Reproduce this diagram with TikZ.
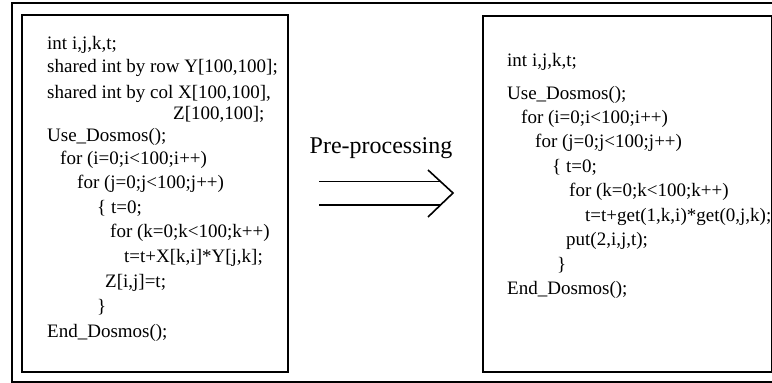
\documentclass[tikz,border=0pt]{standalone}
\usepackage{fontspec}
\setmainfont{Liberation Serif}
\usetikzlibrary{calc}

\begin{document}
\begin{tikzpicture}[x=1pt,y=-1pt,
  every node/.style={font=\fontsize{19}{23}\selectfont},
  codeline/.style={anchor=base west,inner sep=0pt},
  frameline/.style={line width=2pt,line join=miter}]
\useasboundingbox (0,0) rectangle (772,383);
\clip (0,0) rectangle (772,383);
\fill[white] (0,0) rectangle (772,383);
% outer frame and the two boxes
\draw[frameline] (11.5,2.5) rectangle (790,381.5);
\draw[frameline] (22,14.5) rectangle (288,372);
\draw[frameline] (483,16) rectangle (772,372);
% original program
\foreach[count=\n] \x/\y/\txt in {
  47/49/{int i,j,k,t;},
  47/72/{shared int by row Y[100,100];},
  47/98/{shared int by col X[100,100],},
  173/119/{Z[100,100];},
  47/141/{Use\_Dosmos();},
  60/164/{for (i=0;i<100;i++)},
  77/188/{for (j=0;j<100;j++)},
  97/213/{\{ t=0;},
  110/237/{for (k=0;k<100;k++)},
  124/262/{t=t+X[k,i]*Y[j,k];},
  105/287/{Z[i,j]=t;},
  97/312/{\}},
  47/337/{End\_Dosmos();}} {
  \node[codeline] (src\n) at (\x,\y) {\txt};
}
% pre-processed program
\foreach[count=\n] \x/\y/\txt in {
  507/66/{int i,j,k,t;},
  507/99/{Use\_Dosmos();},
  521/123/{for (i=0;i<100;i++)},
  535/147/{for (j=0;j<100;j++)},
  552/172/{\{ t=0;},
  569/196/{for (k=0;k<100;k++)},
  585/221/{t=t+get(1,k,i)*get(0,j,k);},
  566/245/{put(2,i,j,t);},
  557/270/{\}},
  507/294/{End\_Dosmos();}} {
  \node[codeline] (dst\n) at (\x,\y) {\txt};
}
% the arrow
\node[anchor=base,inner sep=0pt,font=\fontsize{24}{28}\selectfont] (pre) at (381,153) {Pre-processing};
\coordinate (tip) at (453,193);
\coordinate (up) at (428,170);
\coordinate (lo) at (428,217);
\draw[line width=1.6pt] (319,181.5) -- (441,181.5) (319,205) -- (441,205);
\draw[line width=1.6pt] (up) -- (tip) -- (lo);
\end{tikzpicture}
\end{document}
